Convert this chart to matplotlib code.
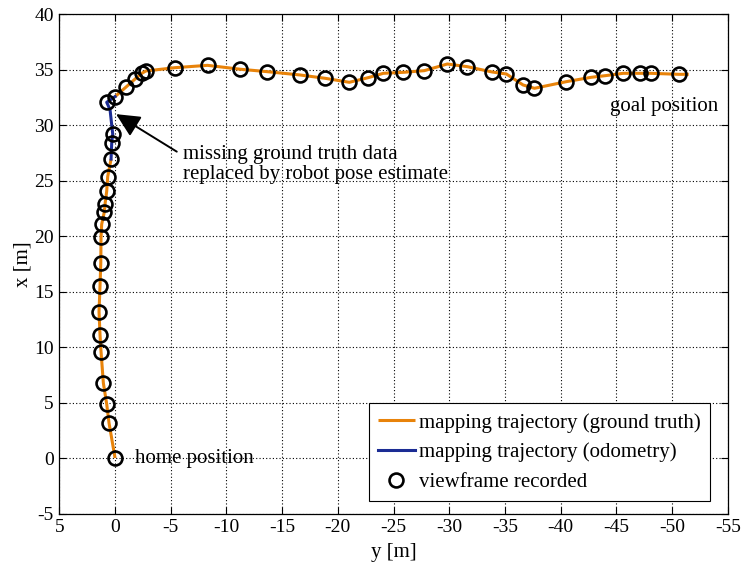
import numpy as np
import matplotlib
matplotlib.use("Agg")
import matplotlib.pyplot as plt

plt.rcParams["font.family"] = ["Liberation Serif", "DejaVu Serif"]
plt.rcParams["mathtext.fontset"] = "stix"

# Ground-truth trajectory (y, x in metres); NaN marks the gap in ground truth
gt_y = [0.0, 0.54, 0.75, 1.05, 1.26, 1.35, 1.44, 1.35, 1.28, 1.26, 1.20, 0.96, 0.90,
        0.75, 0.66, 0.36, np.nan,
        0.0, -0.96, -1.80, -2.40, -2.76, -5.39, -8.30, -11.23, -13.66, -16.62, -18.87,
        -21.03, -22.73, -24.08, -25.88, -27.76, -29.83, -31.63, -33.86, -35.13, -36.63,
        -37.65, -40.52, -42.74, -44.02, -45.61, -47.11, -48.13, -50.61, -51.5]
gt_x = [0.0, 3.15, 4.86, 6.76, 9.60, 11.11, 13.21, 15.52, 17.62, 19.90, 21.08, 22.20,
        22.90, 24.05, 25.37, 26.95, np.nan,
        32.58, 33.42, 34.17, 34.68, 34.89, 35.19, 35.40, 35.05, 34.83, 34.53, 34.23,
        33.87, 34.29, 34.68, 34.77, 34.92, 35.52, 35.28, 34.80, 34.62, 33.63,
        33.33, 33.93, 34.32, 34.47, 34.68, 34.68, 34.68, 34.59, 34.59]

# Odometry-based pose estimate where ground truth is missing
odo_y = [0.36, 0.30, 0.21, 0.45, 0.75, 0.0]
odo_x = [26.95, 28.38, 29.20, 31.40, 32.07, 32.58]

# Positions where a viewframe was recorded
vf_y = [0.0, 0.54, 0.75, 1.05, 1.26, 1.35, 1.44, 1.35, 1.28, 1.26, 1.20, 0.96, 0.90,
        0.75, 0.66, 0.36, 0.30, 0.21, 0.75, 0.0, -0.96, -1.80, -2.40, -2.76, -5.39,
        -8.30, -11.23, -13.66, -16.62, -18.87, -21.03, -22.73, -24.08, -25.88, -27.76,
        -29.83, -31.63, -33.86, -35.13, -36.63, -37.65, -40.52, -42.74, -44.02, -45.61,
        -47.11, -48.13, -50.61]
vf_x = [0.0, 3.15, 4.86, 6.76, 9.60, 11.11, 13.21, 15.52, 17.62, 19.90, 21.08, 22.20,
        22.90, 24.05, 25.37, 26.95, 28.38, 29.20, 32.07, 32.58, 33.42, 34.17, 34.68,
        34.89, 35.19, 35.40, 35.05, 34.83, 34.53, 34.23, 33.87, 34.29, 34.68, 34.77,
        34.92, 35.52, 35.28, 34.80, 34.62, 33.63, 33.33, 33.93, 34.32, 34.47, 34.68,
        34.68, 34.68, 34.59]

x_ticks = [5, 0, -5, -10, -15, -20, -25, -30, -35, -40, -45, -50, -55]
y_ticks = [-5, 0, 5, 10, 15, 20, 25, 30, 35, 40]

ORANGE = "#E8830A"
BLUE = "#1B2C94"

fig = plt.figure(figsize=(7.43, 5.70), dpi=100)
ax = fig.add_axes([0.0799, 0.0991, 0.8995, 0.8758])

ax.plot(gt_y, gt_x, color=ORANGE, lw=2.2, solid_capstyle="butt",
        label="mapping trajectory (ground truth)", zorder=3)
ax.plot(odo_y, odo_x, color=BLUE, lw=2.2,
        label="mapping trajectory (odometry)", zorder=3)
ax.plot(vf_y, vf_x, linestyle="none", marker="o", ms=10, mfc="none", mec="black",
        mew=1.9, label="viewframe recorded", zorder=4)

ax.set_xlim(5, -55)
ax.set_ylim(-5, 40)
ax.set_xticks(x_ticks)
ax.set_yticks(y_ticks)
ax.set_xticklabels([str(t) for t in x_ticks])
ax.set_yticklabels([str(t) for t in y_ticks])
ax.tick_params(direction="in", length=5, width=0.8, top=True, right=True,
               labelsize=14, pad=4)
ax.grid(True, linestyle=(0, (1, 2)), color="black", linewidth=0.8)
ax.set_axisbelow(True)
for s in ax.spines.values():
    s.set_linewidth(0.9)

ax.set_xlabel("y [m]", fontsize=15, labelpad=5)
ax.set_ylabel("x [m]", fontsize=15, labelpad=1)

ax.text(-1.8, 0.0, "home position", fontsize=15, ha="left", va="center", zorder=5)
ax.text(-44.47, 31.68, "goal position", fontsize=15, ha="left", va="center", zorder=5)
ax.text(-6.14, 26.45, "missing ground truth data\nreplaced by robot pose estimate",
        fontsize=15, ha="left", va="center", linespacing=1.05, zorder=5)
ax.annotate("", xy=(-0.09, 31.0), xytext=(-5.54, 27.62),
            arrowprops=dict(arrowstyle="-|>,head_length=1.45,head_width=0.7",
                            color="black", lw=1.4, shrinkA=0, shrinkB=0,
                            mutation_scale=10), zorder=5)

leg = ax.legend(loc="lower right", bbox_to_anchor=(0.9735, 0.0245), borderaxespad=0,
                fontsize=15, frameon=True, fancybox=False, framealpha=1,
                edgecolor="black", handlelength=1.75, handletextpad=0.2,
                labelspacing=0.48, borderpad=0.45)
leg.get_frame().set_linewidth(0.8)

fig.savefig("out.png", dpi=100)
